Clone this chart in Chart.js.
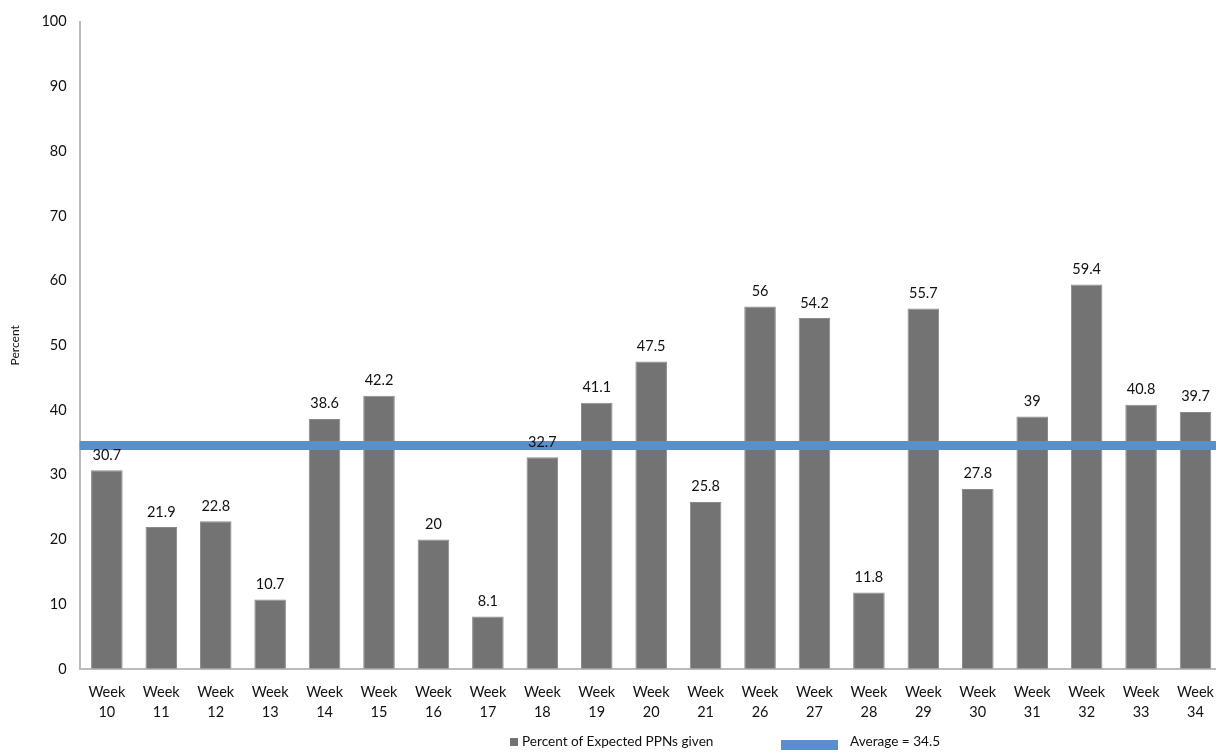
<!DOCTYPE html>
<html>
<head>
<meta charset="utf-8">
<script src="https://cdn.jsdelivr.net/npm/chart.js@4"></script>
<style>
  html, body { margin: 0; padding: 0; background: #fff; overflow: hidden; }
  #wrap { position: absolute; left: 0; top: 0; width: 1228px; height: 736px; }
  .legend { position: absolute; top: 733px; font-family: Lato, sans-serif; font-size: 13.6px; color: #111; }
  .sq { display: inline-block; width: 8px; height: 8px; background: #737373; margin-right: 4px; }
  .bar { display: inline-block; width: 57px; height: 10px; background: #5b8fcb; vertical-align: -4px; }
</style>
</head>
<body>
<div id="wrap"><canvas id="c"></canvas></div>
<div class="legend" style="left:510px"><span class="sq"></span>Percent of Expected PPNs given</div>
<div class="legend" style="left:781px"><span class="bar"></span><span style="margin-left:12px">Average = 34.5</span></div>
<script>
// 데이터
const weeks = ['10', '11', '12', '13', '14', '15', '16', '17', '18', '19', '20', '21', '26', '27', '28', '29', '30', '31', '32', '33', '34'];
const percentGiven = [30.7, 21.9, 22.8, 10.7, 38.6, 42.2, 20, 8.1, 32.7, 41.1, 47.5, 25.8, 56, 54.2, 11.8, 55.7, 27.8, 39, 59.4, 40.8, 39.7];
const average = 34.5;
const yTicks = [0, 10, 20, 30, 40, 50, 60, 70, 80, 90, 100];

const labels = weeks.map(w => ['Week', w]);

// 평균선: y축 스케일 기준으로 차트 영역 전체에 그림
const averageLine = {
    id: 'averageLine',
    afterDatasetsDraw(chart) {
        const ctx = chart.ctx;
        const area = chart.chartArea;
        const y = chart.scales.y.getPixelForValue(average);
        ctx.save();
        ctx.strokeStyle = '#5b8fcb';
        ctx.lineWidth = 9;
        ctx.beginPath();
        ctx.moveTo(area.left, y);
        ctx.lineTo(area.right, y);
        ctx.stroke();
        ctx.restore();
    }
};

// 막대 위 값 표시
const valueLabels = {
    id: 'valueLabels',
    afterDatasetsDraw(chart) {
        const ctx = chart.ctx;
        const meta = chart.getDatasetMeta(0);
        ctx.save();
        ctx.font = '14.5px Lato, sans-serif';
        ctx.fillStyle = '#111';
        ctx.textAlign = 'center';
        ctx.textBaseline = 'bottom';
        meta.data.forEach((bar, i) => {
            ctx.fillText(String(percentGiven[i]), bar.x, bar.y - 8);
        });
        ctx.restore();
    }
};

new Chart(document.getElementById('c'), {
    type: 'bar',
    data: {
        labels: labels,
        datasets: [{
            label: 'Percent of Expected PPNs given',
            data: percentGiven,
            backgroundColor: '#737373',
            borderColor: '#8a8a8a',
            borderWidth: 1,
            barPercentage: 0.58,
            categoryPercentage: 1
        }]
    },
    options: {
        responsive: true,
        maintainAspectRatio: false,
        animation: false,
        layout: { padding: { top: 14, right: 2, bottom: 0, left: 0 } },
        plugins: {
            legend: { display: false },
            tooltip: { enabled: false }
        },
        scales: {
            x: {
                grid: { display: false, drawTicks: false },
                border: { color: '#bbb', width: 2 },
                ticks: { color: '#111', font: { family: 'Lato', size: 14.5, lineHeight: 1.35 }, padding: 14, maxRotation: 0, autoSkip: false }
            },
            y: {
                min: 0,
                max: 100,
                afterBuildTicks: axis => { axis.ticks = yTicks.map(v => ({ value: v })); },
                grid: { display: false, drawTicks: false },
                border: { color: '#bbb', width: 2 },
                ticks: { color: '#111', font: { family: 'Lato', size: 14.5 }, padding: 13 },
                title: { display: true, text: 'Percent', color: '#111', font: { family: 'Lato', size: 12 }, padding: { top: 8, bottom: 6 } }
            }
        }
    },
    plugins: [averageLine, valueLabels]
});
</script>
</body>
</html>
